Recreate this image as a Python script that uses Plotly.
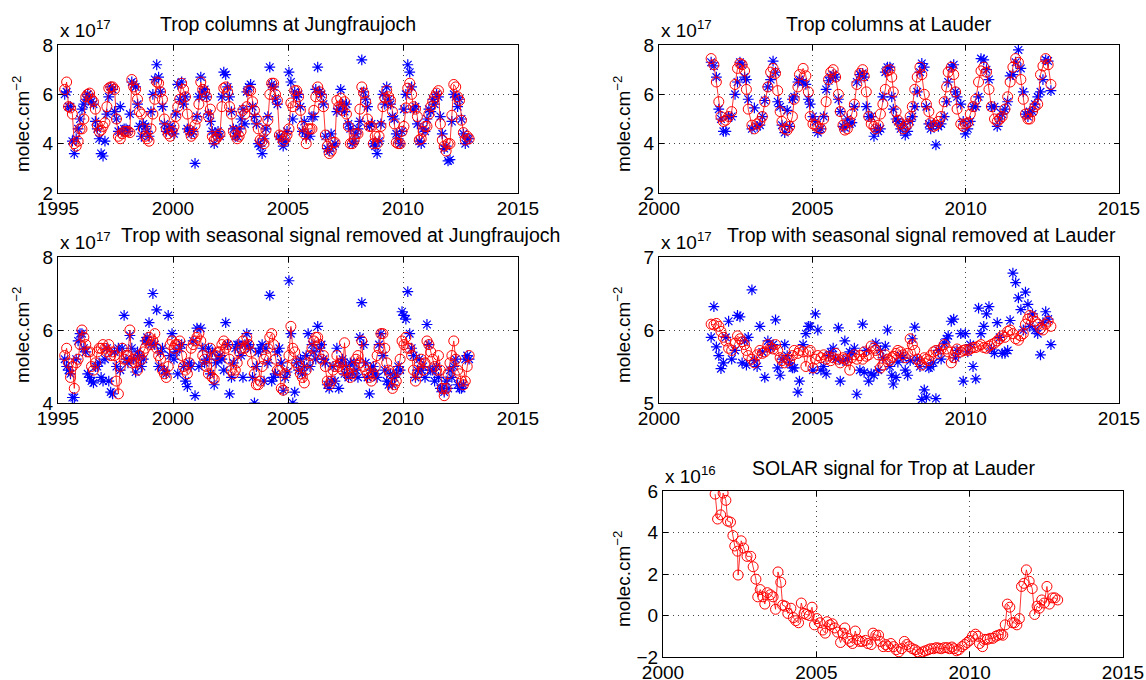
import plotly.graph_objects as go

# ---------------- Jungfraujoch (monthly, Apr 1995 - Nov 2012), units of 1e17 molec/cm2
jf_years = list(range(1995, 2013))
jf_first, jf_last = (1995, 4), (2012, 11)

jf_obs = [
    6.0, 6.1, 5.5, 5.5, 4.1, 3.6, 4.2, 4.6, 5.0,
    5.4, 5.6, 5.8, 6.0, 5.9, 5.7, 5.6, 4.9, 4.6, 4.2, 3.6, 3.5,
    4.1, 5.2, 5.9, 6.3, 6.2, 5.3, 5.0, 4.5, 5.5, 4.5, 4.6, 4.6,
    4.5, 5.2, 6.5, 6.4, 6.3, 5.6, 4.7, 4.3, 4.8, 4.7, 4.5, 4.3,
    5.3, 6.0, 6.6, 7.2, 6.7, 6.1, 5.5, 4.8, 4.5, 4.6, 4.7, 4.6,
    4.4, 5.2, 6.4, 5.8, 6.5, 5.6, 5.9, 4.6, 4.5, 4.4, 4.5, 3.2,
    5.1, 5.9, 6.7, 6.1, 6.2, 5.9, 5.2, 4.9, 4.5, 4.0, 4.4, 4.5,
    4.3, 5.9, 6.9, 6.8, 6.3, 5.9, 5.3, 4.6, 4.3, 4.3, 4.6, 5.0,
    5.4, 4.8, 6.1, 6.3, 6.4, 5.5, 5.1, 4.8, 4.0, 3.9, 3.6, 4.2,
    4.6, 5.1, 7.1, 6.4, 6.3, 5.8, 5.6, 4.3, 4.2, 3.9, 4.1, 4.5,
    6.9, 6.5, 5.0, 6.1, 5.9, 6.0, 5.5, 4.5, 4.9, 4.3, 4.4, 4.3,
    5.1, 5.1, 6.2, 7.1, 6.1, 6.0, 5.6, 4.3, 3.8, 3.7, 4.4, 3.9,
    4.0, 5.3, 5.4, 6.2, 5.6, 5.3, 5.6, 4.8, 4.6, 4.0, 4.1, 4.4,
    4.6, 4.9, 7.4, 6.1, 5.8, 5.5, 4.7, 4.8, 4.0, 3.9, 3.6, 4.1,
    4.8, 6.0, 5.6, 6.3, 5.8, 5.6, 5.1, 5.0, 4.4, 4.2, 4.0, 4.5,
    5.4, 6.0, 7.2, 6.9, 6.3, 5.4, 5.5, 4.8, 4.1, 4.0, 4.6, 4.5,
    5.0, 5.4, 5.3, 5.8, 5.6, 6.0, 5.9, 5.1, 4.4, 3.8, 3.9, 3.3,
    3.35, 4.9, 6.0, 5.9, 5.5, 5.8, 5.0, 4.4, 4.0, 4.2, 4.2,
]
jf_fit = [
    6.2, 6.5, 5.5, 5.45, 5.2, 4.0, 3.9, 4.1, 4.6,
    4.6, 5.0, 5.9, 6.0, 6.05, 5.8, 5.7, 5.4, 4.75, 4.5, 4.55, 4.7,
    4.85, 5.5, 6.25, 6.3, 6.3, 6.2, 5.0, 4.3, 4.2, 4.4, 4.5, 4.5,
    4.5, 4.45, 6.6, 6.3, 6.2, 5.8, 5.3, 5.2, 4.6, 4.3, 4.2, 4.1,
    4.6, 5.2, 5.8, 6.5, 6.45, 6.1, 5.8, 5.0, 4.6, 4.4, 4.3, 4.5,
    4.7, 5.1, 5.5, 5.8, 6.45, 6.2, 5.9, 5.2, 4.55, 4.3, 4.4, 4.75,
    5.0, 5.6, 6.5, 6.2, 6.1, 5.9, 5.1, 5.4, 4.3, 4.15, 4.2, 4.3,
    4.4, 5.5, 6.25, 6.3, 6.1, 5.5, 5.2, 4.5, 4.35, 4.2, 4.3, 4.5,
    5.35, 5.2, 5.5, 6.15, 6.15, 5.7, 5.35, 5.0, 4.6, 4.15, 4.1, 4.0,
    4.55, 4.95, 6.0, 6.45, 6.45, 6.0, 5.75, 4.35, 4.3, 4.1, 4.2, 4.35,
    4.6, 5.65, 5.5, 6.15, 6.15, 5.9, 5.35, 4.7, 4.4, 4.0, 4.6, 4.6,
    4.6, 5.35, 5.9, 6.3, 6.1, 5.9, 5.5, 4.35, 3.9, 3.6, 3.7, 4.05,
    4.05, 5.75, 5.5, 5.85, 5.35, 5.7, 5.2, 4.7, 4.0, 4.0, 4.15, 4.4,
    4.4, 5.4, 6.3, 6.05, 5.7, 5.0, 4.7, 4.7, 4.0, 4.3, 4.0, 4.3,
    4.7, 5.5, 5.85, 6.15, 5.9, 5.75, 5.3, 4.8, 4.05, 4.0, 4.0, 4.5,
    4.7, 5.45, 6.25, 6.45, 6.0, 5.5, 5.4, 5.1, 4.15, 4.2, 4.5, 4.7,
    4.7, 5.2, 5.5, 5.7, 5.9, 6.05, 6.15, 4.8, 4.15, 3.9, 3.7, 4.0,
    4.0, 5.15, 6.4, 6.3, 5.9, 5.75, 4.95, 4.45, 4.15, 4.3, 4.2,
]
jf_deseas_obs = [
    5.2, 5.0, 4.9, 4.8, 4.15, 4.15, 5.2, 5.7, 5.9,
    5.9, 5.5, 5.4, 4.8, 4.7, 4.6, 4.55, 5.0, 5.0, 5.1, 4.7, 4.6,
    5.2, 5.5, 4.6, 4.3, 4.25, 5.4, 5.0, 5.5, 4.9, 5.5, 6.4, 5.2,
    5.1, 5.85, 5.5, 5.2, 4.85, 5.4, 5.3, 5.0, 5.2, 5.7, 5.8, 6.2,
    5.6, 7.0, 5.6, 6.55, 5.0, 5.4, 5.5, 4.9, 4.8, 6.4, 5.3, 5.9,
    5.2, 5.4, 4.8, 5.5, 5.6, 5.0, 4.6, 4.45, 5.1, 5.0, 5.7, 4.2,
    6.05, 5.0, 6.05, 5.5, 5.1, 5.2, 5.5, 4.8, 5.4, 4.5, 5.1, 5.2,
    5.3, 5.2, 4.9, 6.2, 5.6, 4.25, 4.7, 5.1, 5.5, 5.6, 5.6, 5.3,
    4.7, 5.6, 5.9, 5.6, 5.5, 4.7, 4.0, 5.0, 5.4, 5.5, 5.6, 4.6,
    5.5, 5.1, 6.95, 4.6, 4.7, 4.8, 5.4, 5.5, 5.1, 4.35, 4.7, 4.85,
    7.35, 5.9, 4.0, 4.3, 5.1, 4.9, 5.2, 4.8, 5.0, 5.3, 5.9, 5.0,
    5.6, 5.4, 5.2, 6.1, 5.5, 5.6, 5.2, 5.1, 4.5, 4.4, 4.6, 5.0,
    4.6, 5.5, 4.4, 5.1, 5.2, 4.8, 5.0, 4.7, 5.1, 4.8, 5.1, 4.9,
    4.7, 5.8, 6.75, 5.6, 5.1, 4.7, 4.25, 4.9, 5.0, 4.8, 4.7, 5.6,
    5.9, 5.3, 4.9, 4.6, 4.5, 4.8, 4.5, 4.7, 4.8, 5.0, 4.9, 6.5,
    6.4, 6.3, 7.05, 5.9, 5.5, 5.3, 4.7, 4.9, 5.2, 4.9, 5.0, 4.7,
    6.15, 5.6, 4.9, 4.9, 4.6, 5.0, 4.7, 4.4, 4.4, 4.3, 4.6, 4.4,
    4.9, 4.7, 5.0, 5.2, 4.5, 4.4, 4.4, 4.5, 5.2, 5.3, 5.2,
]
jf_deseas_fit = [
    5.3, 5.5, 5.1, 4.7, 5.0, 4.4, 5.1, 5.2, 5.6,
    6.0, 5.8, 5.6, 5.4, 5.4, 5.0, 4.9, 5.1, 5.4, 5.5, 5.5, 5.6,
    5.5, 5.4, 5.6, 5.3, 5.4, 5.3, 4.6, 4.25, 5.0, 5.5, 5.2, 5.3,
    5.3, 6.0, 5.1, 5.2, 5.1, 4.9, 5.3, 5.2, 5.4, 5.5, 5.7, 5.8,
    5.6, 5.7, 5.9, 5.5, 5.3, 5.2, 4.9, 4.8, 4.7, 5.0, 5.6, 5.7,
    5.5, 5.6, 5.6, 5.7, 5.3, 5.0, 4.9, 4.8, 5.1, 5.5, 5.6, 5.7,
    5.8, 5.9, 5.7, 5.3, 5.2, 5.0, 4.8, 5.5, 4.7, 4.65, 5.3, 5.4,
    5.4, 5.6, 5.7, 5.5, 5.6, 5.2, 4.9, 4.8, 4.9, 5.1, 5.4, 5.5,
    5.7, 5.5, 5.8, 5.6, 5.4, 5.1, 4.8, 4.5, 4.5, 4.6, 5.0, 5.2,
    5.3, 5.5, 5.8, 5.9, 5.6, 5.2, 4.9, 4.9, 4.4, 4.35, 4.8, 5.0,
    5.3, 6.1, 5.5, 5.4, 5.1, 5.0, 4.8, 4.7, 4.55, 4.9, 5.1, 5.3,
    5.5, 5.7, 5.8, 5.8, 5.6, 5.2, 5.3, 5.0, 4.6, 4.5, 4.6, 4.9,
    5.0, 5.3, 5.0, 5.1, 4.9, 5.65, 4.9, 4.8, 4.7, 4.8, 5.0, 5.2,
    5.3, 5.1, 5.7, 5.0, 4.9, 4.8, 4.7, 4.6, 4.8, 5.0, 5.3, 5.5,
    5.9, 5.9, 5.5, 5.1, 4.9, 4.8, 4.4, 4.5, 4.6, 4.9, 5.2, 5.7,
    5.6, 5.8, 5.5, 5.5, 5.3, 4.9, 4.6, 4.8, 5.1, 5.2, 4.9, 5.1,
    5.7, 5.6, 5.4, 5.2, 5.0, 4.9, 5.3, 4.9, 4.4, 4.2, 4.4, 4.8,
    5.1, 5.3, 5.7, 5.2, 4.9, 4.8, 4.6, 4.5, 4.6, 5.0, 5.3,
]

# ---------------- Lauder (decimal years), units of 1e17 molec/cm2
la_t = [
    2001.70, 2001.79, 2001.87, 2001.95,
    2002.02, 2002.10, 2002.18, 2002.27, 2002.37, 2002.48, 2002.56, 2002.64, 2002.71, 2002.79, 2002.85, 2002.91,
    2003.03, 2003.11, 2003.20, 2003.29, 2003.37, 2003.45, 2003.55, 2003.64, 2003.72, 2003.80, 2003.87, 2003.95,
    2004.01, 2004.10, 2004.18, 2004.26, 2004.35, 2004.41, 2004.53, 2004.58, 2004.70, 2004.79, 2004.87, 2004.93,
    2005.02, 2005.10, 2005.18, 2005.28, 2005.37, 2005.45, 2005.53, 2005.60, 2005.68, 2005.76, 2005.85, 2005.91,
    2006.00, 2006.06, 2006.14, 2006.22, 2006.29, 2006.37, 2006.45, 2006.55, 2006.64, 2006.69, 2006.76, 2006.84, 2006.92,
    2007.01, 2007.07, 2007.15, 2007.22, 2007.30, 2007.38, 2007.45, 2007.53, 2007.59, 2007.64, 2007.73, 2007.79, 2007.88, 2007.96,
    2008.03, 2008.11, 2008.19, 2008.26, 2008.34, 2008.42, 2008.51, 2008.57, 2008.65, 2008.72, 2008.80, 2008.86, 2008.95,
    2009.03, 2009.11, 2009.20, 2009.30, 2009.38, 2009.43, 2009.53, 2009.61, 2009.67, 2009.72, 2009.84, 2009.92, 2009.99,
    2010.07, 2010.15, 2010.24, 2010.33, 2010.42, 2010.50, 2010.59, 2010.68, 2010.76, 2010.84, 2010.94,
    2011.03, 2011.11, 2011.19, 2011.28, 2011.37, 2011.45, 2011.54, 2011.63, 2011.72, 2011.80, 2011.88, 2011.95,
    2012.03, 2012.09, 2012.18, 2012.26, 2012.35, 2012.44, 2012.52, 2012.61, 2012.69, 2012.78,
]
la_obs = [
    7.3, 7.15, 6.7, 5.4,
    5.0, 4.5, 4.5, 5.1, 5.1, 6.0, 6.5, 7.3, 7.2, 6.7, 6.6, 5.8,
    4.6, 5.45, 4.7, 4.75, 5.1, 5.75, 6.3, 6.6, 7.35, 6.9, 5.7, 5.5,
    4.75, 4.45, 5.35, 4.7, 5.8, 5.9, 6.5, 6.6, 6.5, 6.4, 5.8, 5.6,
    5.1, 4.9, 4.45, 4.6, 5.1, 6.2, 6.55, 6.7, 6.8, 6.7, 5.8, 5.3,
    4.7, 4.65, 5.0, 4.8, 4.85, 5.5, 6.5, 6.8, 6.85, 6.7, 5.5, 5.1, 5.1,
    4.3, 4.6, 4.5, 4.6, 5.9, 6.9, 7.1, 7.1, 5.9, 5.4, 5.0, 4.9, 4.6, 4.8,
    4.35, 4.5, 4.9, 5.1, 5.5, 6.1, 6.9, 7.25, 7.1, 5.5, 4.8, 4.6, 4.8,
    3.95, 4.7, 4.8, 5.1, 5.7, 6.5, 7.1, 7.2, 6.1, 5.9, 5.6, 4.9, 4.4,
    4.6, 4.9, 5.5, 5.5, 5.9, 7.45, 7.4, 7.0, 6.6, 5.5, 5.5,
    4.7, 5.0, 5.2, 5.4, 5.7, 6.75, 6.8, 7.3, 7.8, 7.05, 6.1, 5.2,
    5.1, 5.3, 5.3, 5.6, 5.9, 6.1, 6.6, 7.4, 7.35, 6.15,
]
la_fit = [
    7.45, 7.2, 6.5, 5.7,
    5.1, 4.9, 4.95, 5.1, 5.3, 6.4, 7.05, 7.25, 7.2, 6.95, 6.2, 5.4,
    4.75, 4.6, 4.8, 4.9, 5.1, 5.7, 6.3, 6.9, 7.05, 6.85, 6.15, 5.3,
    4.9, 4.6, 4.55, 4.7, 5.1, 5.8, 6.3, 6.8, 7.05, 6.75, 6.1, 5.1,
    4.8, 4.75, 4.65, 4.6, 5.0, 5.7, 6.6, 6.9, 7.0, 6.7, 6.0, 5.3,
    4.75, 4.55, 4.6, 4.9, 5.2, 5.6, 6.4, 6.85, 7.0, 6.75, 6.1, 5.1, 4.8,
    4.7, 4.6, 4.75, 5.2, 5.6, 6.2, 6.95, 7.0, 6.7, 6.1, 5.3, 4.95, 4.8, 4.6,
    4.7, 4.8, 5.1, 5.5, 6.2, 6.7, 7.1, 6.8, 6.0, 5.6, 5.3, 4.85, 4.7,
    4.75, 4.9, 5.1, 5.7, 6.3, 6.9, 7.1, 6.8, 6.1, 5.4, 4.8, 4.7, 4.8,
    4.85, 5.2, 5.5, 5.8, 6.5, 6.95, 7.1, 6.9, 6.2, 5.5, 5.0,
    4.9, 5.0, 5.1, 5.4, 5.9, 6.5, 7.1, 7.45, 7.3, 6.6, 5.8, 5.2,
    5.0, 5.0, 5.3, 5.5, 5.6, 6.8, 7.15, 7.45, 7.2, 6.4,
]
la_deseas_obs = [
    5.9, 6.32, 5.77, 5.65,
    5.47, 5.55, 5.9, 6.12, 5.6, 5.72, 6.2, 6.18, 5.55, 5.85, 5.52, 5.9,
    6.55, 5.58, 5.5, 6.05, 5.7, 5.35, 5.85, 5.75, 5.8, 6.14, 5.48, 5.38,
    5.6, 5.8, 5.65, 5.55, 5.48, 5.48, 5.15, 5.3, 5.8, 5.95, 6.05, 6.05,
    5.45, 6.22, 6.0, 5.45, 5.5, 5.4, 5.65, 5.7, 5.75, 5.6, 6.03, 5.3,
    5.58, 5.85, 5.6, 5.7, 5.68, 5.75, 5.12, 5.45, 6.08, 5.42, 5.72, 5.3, 5.4,
    5.38, 5.82, 5.45, 5.72, 5.62, 5.78, 6.0, 5.5, 5.38, 5.26, 5.35, 5.56, 5.65, 5.62,
    5.45, 5.38, 5.58, 5.88, 6.04, 5.6, 5.5, 5.05, 5.18, 5.08, 5.48, 5.5, 5.55,
    5.06, 5.72, 5.6, 5.82, 5.88, 5.92, 6.12, 6.15, 5.62, 5.72, 5.95, 5.3, 5.95,
    5.7, 5.8, 5.5, 5.33, 6.3, 5.95, 6.05, 6.22, 6.32, 5.74, 5.68,
    6.1, 5.9, 5.68, 5.68, 5.72, 6.13, 6.78, 6.65, 6.44, 6.28, 6.0, 6.52,
    6.35, 6.05, 6.22, 6.0, 5.95, 5.66, 6.1, 6.25, 6.15, 5.8,
]
la_deseas_fit = [
    6.08, 6.07, 6.09, 6.05,
    5.98, 5.9, 5.85, 5.75, 5.72, 5.82, 5.92, 5.88, 5.84, 5.8, 5.72, 5.65,
    5.6, 5.55, 5.66, 5.72, 5.68, 5.7, 5.8, 5.76, 5.74, 5.8, 5.72, 5.62,
    5.58, 5.55, 5.6, 5.58, 5.65, 5.72, 5.68, 5.72, 5.7, 5.5, 5.7, 5.72,
    5.48, 5.6, 5.65, 5.62, 5.66, 5.6, 5.64, 5.58, 5.62, 5.68, 5.6, 5.55,
    5.62, 5.6, 5.58, 5.45, 5.62, 5.66, 5.6, 5.65, 5.6, 5.7, 5.64, 5.66, 5.78,
    5.75, 5.72, 5.66, 5.48, 5.52, 5.66, 5.6, 5.58, 5.62, 5.64, 5.68, 5.72, 5.7, 5.66,
    5.62, 5.68, 5.88, 5.8, 5.72, 5.6, 5.56, 5.52, 5.62, 5.6, 5.58, 5.65, 5.7,
    5.72, 5.68, 5.74, 5.8, 5.74, 5.7, 5.55, 5.62, 5.7, 5.74, 5.7, 5.72, 5.73,
    5.72, 5.74, 5.76, 5.76, 5.78, 5.8, 5.76, 5.75, 5.78, 5.8, 5.82,
    5.85, 5.88, 5.92, 5.9, 5.98, 6.0, 5.95, 5.88, 5.86, 5.92, 5.95, 6.08,
    6.15, 6.2, 6.18, 6.12, 6.08, 6.02, 6.0, 6.08, 6.12, 6.05,
]

# ---------------- Solar signal at Lauder, units of 1e16 molec/cm2
sol_t = [
    2001.70, 2001.78, 2001.88, 2001.96,
    2002.05, 2002.11, 2002.20, 2002.28, 2002.34, 2002.43, 2002.45, 2002.55, 2002.63, 2002.74, 2002.86, 2002.94,
    2003.03, 2003.09, 2003.17, 2003.26, 2003.32, 2003.40, 2003.50, 2003.59, 2003.67, 2003.75, 2003.84, 2003.90, 2003.98,
    2004.07, 2004.17, 2004.25, 2004.33, 2004.42, 2004.51, 2004.60, 2004.68, 2004.77, 2004.86, 2004.94,
    2005.02, 2005.12, 2005.21, 2005.29, 2005.35, 2005.44, 2005.52, 2005.60, 2005.69, 2005.79, 2005.87, 2005.93,
    2006.02, 2006.10, 2006.18, 2006.27, 2006.34, 2006.41, 2006.50, 2006.60, 2006.68, 2006.79, 2006.85, 2006.94,
    2007.03, 2007.08, 2007.18, 2007.26, 2007.34, 2007.43, 2007.52, 2007.60, 2007.69, 2007.78, 2007.87, 2007.95,
    2008.03, 2008.13, 2008.22, 2008.30, 2008.38, 2008.47, 2008.56, 2008.65, 2008.73, 2008.82, 2008.91, 2008.99,
    2009.07, 2009.17, 2009.26, 2009.34, 2009.42, 2009.49, 2009.57, 2009.65, 2009.75, 2009.84, 2009.92,
    2010.00, 2010.09, 2010.19, 2010.27, 2010.32, 2010.42, 2010.50, 2010.58, 2010.67, 2010.76, 2010.85, 2010.93,
    2011.02, 2011.08, 2011.16, 2011.23, 2011.31, 2011.39, 2011.46, 2011.54, 2011.62, 2011.69, 2011.77, 2011.85, 2011.94,
    2012.04, 2012.12, 2012.20, 2012.27, 2012.35, 2012.43, 2012.52, 2012.60, 2012.70, 2012.78, 2012.87,
]
sol_sig = [
    5.85, 4.65, 4.85, 5.9,
    5.55, 4.55, 4.5, 3.85, 3.35, 3.1, 1.95, 3.6, 3.25, 2.85, 2.85, 2.35,
    1.75, 0.9, 1.25, 0.9, 0.55, 1.1, 1.0, 0.9, 0.3, 2.1, 1.6, 0.5, 0.45,
    0.1, 0.35, -0.1, -0.25, -0.35, 0.6, 0.1, 0.05, 0.0, 0.4, -0.45,
    -0.15, -0.35, -0.7, -0.85, -0.3, -0.45, -0.4, -0.6, -0.8, -1.3, -0.85, -0.6,
    -1.1, -1.25, -1.35, -0.75, -1.15, -1.25, -1.25, -1.2, -1.35, -1.4, -0.85, -0.95,
    -0.95, -1.25, -1.5, -1.4, -1.5, -1.35, -1.5, -1.65, -1.75, -1.6, -1.25, -1.4,
    -1.5, -1.6, -1.65, -1.75, -1.85, -1.75, -1.7, -1.65, -1.6, -1.6, -1.55, -1.57,
    -1.6, -1.55, -1.55, -1.6, -1.52, -1.6, -1.7, -1.65, -1.5, -1.4, -1.3,
    -1.2, -1.0, -0.9, -1.0, -1.35, -1.5, -1.15, -1.15, -1.1, -1.1, -1.0, -0.95,
    -0.9, -0.95, -0.45, 0.55, 0.4, -0.35, -0.35, -0.45, -0.15, 1.4, 1.55, 2.2, 1.65,
    1.3, 0.05, 0.45, 0.35, 0.75, 0.6, 1.4, 0.55, 0.85, 0.85, 0.75,
]

jf_t = [y + (m - 0.5) / 12 for y in jf_years for m in range(1, 13)
        if jf_first <= (y, m) <= jf_last]

# ---------------- layout geometry (px in a 1146 x 680 canvas)
W, H = 1146, 680
FONT = "Liberation Sans, Arial, Helvetica, sans-serif"
FS = 19
FT = 19.5

def xd(a, b):
    return [a / W, b / W]

def yd(top, bot):
    return [(H - bot) / H, (H - top) / H]

panels = {
    1: dict(x=(58, 518), y=(45, 193)),
    2: dict(x=(659, 1119), y=(45, 193)),
    3: dict(x=(58, 518), y=(257, 403)),
    4: dict(x=(659, 1119), y=(257, 403)),
    5: dict(x=(663, 1123), y=(491, 657)),
}

fig = go.Figure()

def add_pair(k, t, obs, fit):
    xa, ya = ("x" if k == 1 else f"x{k}"), ("y" if k == 1 else f"y{k}")
    if obs is not None:
        n = min(len(t), len(obs))
        fig.add_trace(go.Scatter(
            x=t[:n], y=obs[:n], mode="markers", xaxis=xa, yaxis=ya,
            marker=dict(symbol="asterisk-open", size=9, color="blue",
                        line=dict(color="blue", width=1.2)),
            showlegend=False, hoverinfo="skip"))
    n = min(len(t), len(fit))
    fig.add_trace(go.Scatter(
        x=t[:n], y=fit[:n], mode="lines+markers", xaxis=xa, yaxis=ya,
        line=dict(color="red", width=0.8),
        marker=dict(symbol="circle-open", size=10, color="red",
                    line=dict(color="red", width=1)),
        showlegend=False, hoverinfo="skip"))

add_pair(1, jf_t, jf_obs, jf_fit)
add_pair(2, la_t, la_obs, la_fit)
add_pair(3, jf_t, jf_deseas_obs, jf_deseas_fit)
add_pair(4, la_t, la_deseas_obs, la_deseas_fit)
add_pair(5, sol_t, None, sol_sig)

yranges = {1: [2, 8], 2: [2, 8], 3: [4, 8], 4: [5, 7], 5: [-2, 6]}
ydticks = {1: 2, 2: 2, 3: 2, 4: 1, 5: 2}
xranges = {1: [1995, 2015], 2: [2000, 2015], 3: [1995, 2015], 4: [2000, 2015], 5: [2000, 2015]}

common = dict(
    showline=True, linecolor="black", linewidth=1, mirror="ticks",
    ticks="inside", ticklen=5, tickcolor="black", tickwidth=1,
    showgrid=True, gridcolor="#444444", gridwidth=1, griddash="1px,4px",
    zeroline=False, tickfont=dict(family=FONT, size=FS, color="black"),
    fixedrange=True, automargin=False,
)

layout = dict(width=W, height=H, margin=dict(l=0, r=0, t=0, b=0, pad=0, autoexpand=False),
              autosize=False,
              paper_bgcolor="white", plot_bgcolor="white", showlegend=False,
              font=dict(family=FONT, size=FS, color="black"))

for k, p in panels.items():
    xs = "xaxis" if k == 1 else f"xaxis{k}"
    ys = "yaxis" if k == 1 else f"yaxis{k}"
    layout[xs] = dict(common, domain=xd(*p["x"]), range=xranges[k], dtick=5,
                      tick0=1995, ticklabelstandoff=-2,
                      anchor=("y" if k == 1 else f"y{k}"))
    layout[ys] = dict(common, domain=yd(*p["y"]), range=yranges[k], dtick=ydticks[k],
                      tick0=0, anchor=("x" if k == 1 else f"x{k}"))

fig.update_layout(**layout)

titles = [
    ("Trop columns at Jungfraujoch", 288, 24, "center"),
    ("Trop columns at Lauder", 889, 24, "center"),
    ("Trop with seasonal signal removed at Jungfraujoch", 119, 235, "left"),
    ("Trop with seasonal signal removed at Lauder", 725, 235, "left"),
    ("SOLAR signal for Trop at Lauder", 893, 468, "center"),
]
ann = []
for txt, x, y, anc in titles:
    ann.append(dict(text=txt, x=x / W, y=(H - y) / H, xref="paper", yref="paper",
                    xanchor=anc, yanchor="middle", showarrow=False,
                    font=dict(family=FONT, size=FT, color="black")))

expo = {1: "17", 2: "17", 3: "17", 4: "17", 5: "16"}
for k, p in panels.items():
    ann.append(dict(text=f"x 10<sup>{expo[k]}</sup>", x=p["x"][0] / W, y=(H - p["y"][0]) / H,
                    xref="paper", yref="paper", xanchor="left", yanchor="bottom",
                    yshift=2, showarrow=False,
                    font=dict(family=FONT, size=FS, color="black")))
    lx = 21 if p["x"][0] < 300 else 622
    ann.append(dict(text="molec.cm<sup>\u22122</sup>", x=lx / W,
                    y=(H - (p["y"][0] + p["y"][1]) / 2 - 5) / H,
                    xref="paper", yref="paper", xanchor="center", yanchor="middle",
                    textangle=-90, showarrow=False,
                    font=dict(family=FONT, size=FS, color="black")))

fig.update_layout(annotations=ann)
fig.write_html("out.html", config={"displayModeBar": False},
               post_script="document.body.style.margin='0';document.body.style.overflow='hidden';")
